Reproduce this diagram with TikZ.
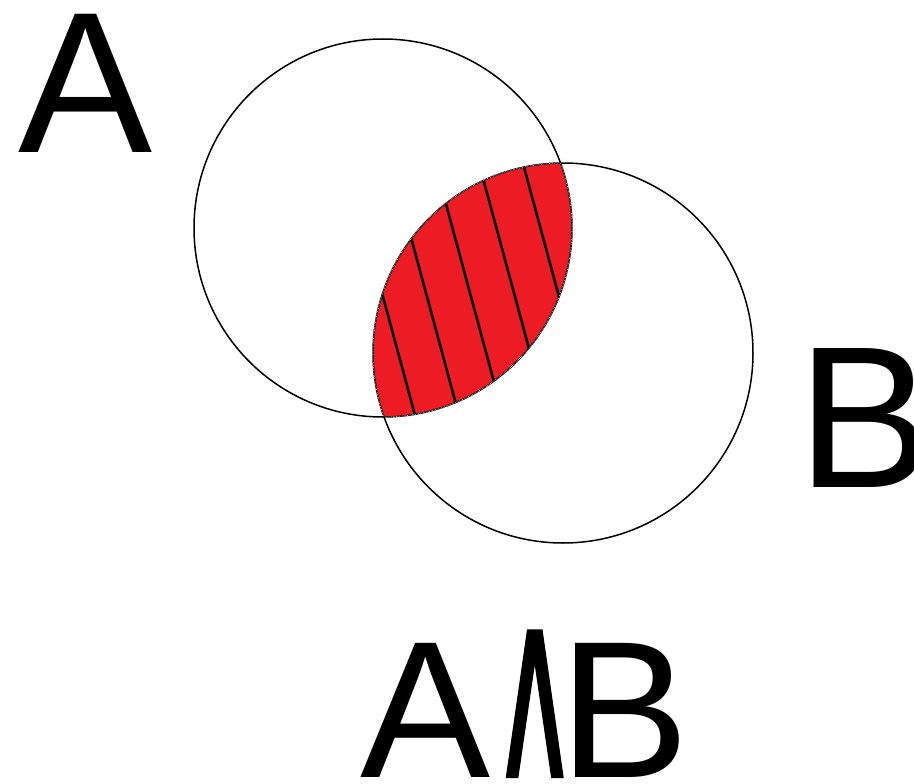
\documentclass[tikz,border=0pt]{standalone}
\usepackage{fontspec}
\setmainfont{Liberation Sans}
\newfontfamily\wedgefont[FakeBold=1]{DejaVu Sans}
\definecolor{lensred}{RGB}{237,28,36}
\begin{document}
\begin{tikzpicture}[x=1pt,y=-1pt,
  ring/.style={draw=black,line width=1.5pt},
  hatch/.style={draw=black,line width=2.6pt},
  marquee/.style={draw=white,line width=0.6pt,densely dotted},
  biglabel/.style={inner sep=0pt,anchor=base west}]
\useasboundingbox[fill=white] (0,0) rectangle (914,784);
% shaded intersection
\begin{scope}
  \clip (383,228) circle (189);
  \clip (563,353) circle (190);
  \fill[lensred] (300,100) rectangle (700,500);
  \foreach \x in {382,426,470,514,558}
    \draw[hatch] (\x-54,93) -- (\x+54,493);
\end{scope}
% circles
\draw[ring] (383,228) circle (189);
\draw[ring] (563,353) circle (190);
% dotted border of the lens
\begin{scope}
  \clip (383,228) circle (189);
  \draw[marquee] (563,353) circle (190);
\end{scope}
\begin{scope}
  \clip (563,353) circle (190);
  \draw[marquee] (383,228) circle (189);
\end{scope}
% labels
\node[biglabel] (la) at (18,152) {\fontsize{201pt}{201pt}\selectfont A};
\node[biglabel] (lb) at (797,487) {\fontsize{202pt}{202pt}\selectfont B};
\node[biglabel] (ba) at (360,777) {\fontsize{195pt}{195pt}\selectfont A};
\node[inner sep=0pt,anchor=south west] (bw) at (491,777) {\resizebox{87pt}{146pt}{\wedgefont ∧}};
\node[biglabel] (bb) at (559,777) {\fontsize{195pt}{195pt}\selectfont B};
\end{tikzpicture}
\end{document}
